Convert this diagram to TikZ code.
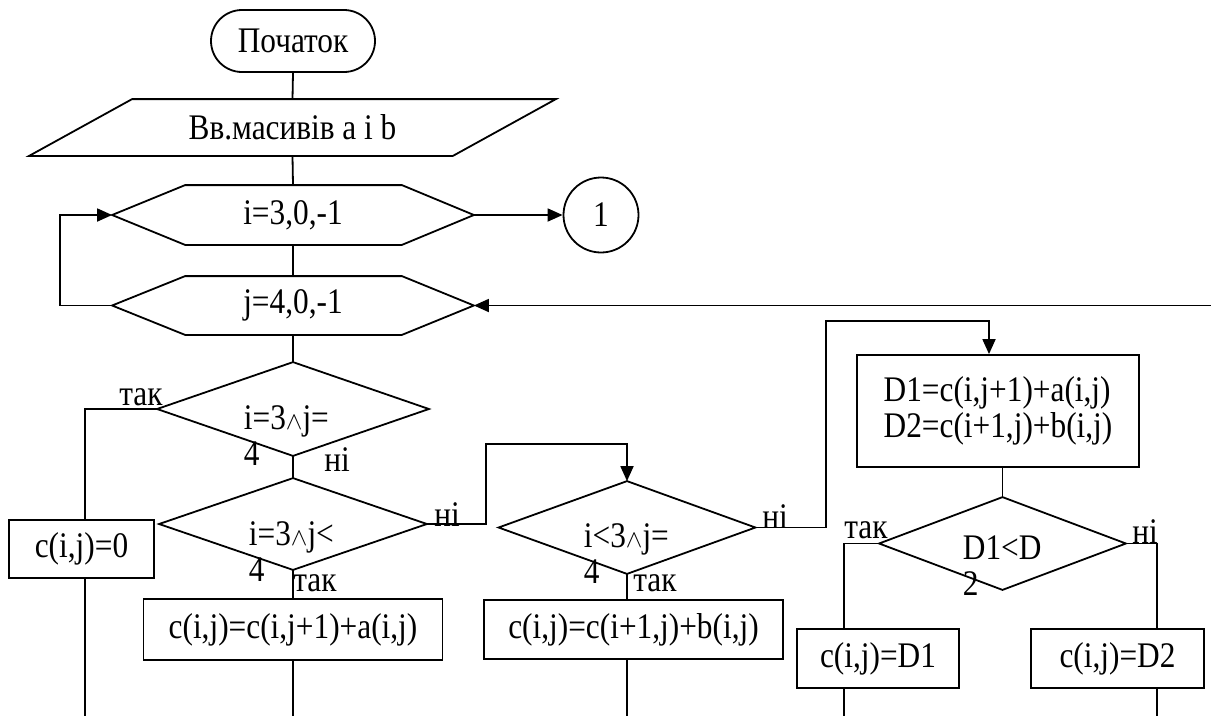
\documentclass[tikz,border=0pt]{standalone}
\usepackage{fontspec}
\setmainfont[FakeStretch=0.87]{Liberation Serif}
\usetikzlibrary{arrows.meta}
\begin{document}
\begin{tikzpicture}[x=1pt,y=-1pt, line width=1.8pt,
  every node/.style={font=\fontsize{36}{36}\selectfont, inner sep=0pt},
  box/.style={draw, rectangle},
  shp/.style={rectangle},
  arr/.style={-{Triangle[length=15pt,width=13pt]}},
]
\useasboundingbox (0,0) rectangle (1211,716);
\coordinate (bottom) at (0,716);

% start
\node[box, rounded corners=31pt, minimum width=164, minimum height=62] (start) at (293,41) {\raisebox{-5pt}{Початок}};
% input parallelogram
\node[shp, minimum width=525, minimum height=55] (inp) at (292.5,127.5) {Вв.масивів a i b};
\draw (inp.south west) -- ([xshift=103pt]inp.north west) -- (inp.north east) -- ([xshift=-103pt]inp.south east) -- cycle;
% hexagons
\node[shp, minimum width=360, minimum height=58] (ih) at (293,215) {\raisebox{-3pt}{i=3,0,-1}};
\node[shp, minimum width=360, minimum height=57] (jh) at (293,305.5) {\raisebox{-3pt}{j=4,0,-1}};
\foreach \n in {ih,jh}{
  \draw (\n.west) -- ([xshift=73pt]\n.north west) -- ([xshift=-72pt]\n.north east) -- (\n.east)
     -- ([xshift=-72pt]\n.south east) -- ([xshift=73pt]\n.south west) -- cycle;
}
% connector circle
\node[draw, circle, minimum size=75] (c1) at (601,215) {\raisebox{-4pt}{1}};
\coordinate (rin) at (1211,305.5);

% diamonds
\node[shp, minimum width=270, minimum height=92] (d1) at (293,409) {};
\node[shp, minimum width=266, minimum height=90] (d2) at (293,524) {};
\node[shp, minimum width=255, minimum height=91] (d3) at (627,527.5) {};
\node[shp, minimum width=245, minimum height=91] (d4) at (1002.5,543.5) {};
\foreach \n in {d1,d2,d3,d4}{
  \draw (\n.north) -- (\n.east) -- (\n.south) -- (\n.west) -- cycle;
}
\node[anchor=base west, align=left] (d1t) at (243,465) {i=3$\wedge$j=\\4};
\node[anchor=base west, align=left] (d2t) at (248,581) {i=3$\wedge$j<\\4};
\node[anchor=base west, align=left] (d3t) at (583,583) {i<3$\wedge$j=\\4};
\node[anchor=base west, align=left] (d4t) at (962,595) {D1<D\\2};

% boxes
\node[box, minimum width=145, minimum height=58] (b0) at (81.5,549) {c(i,j)=0};
\node[box, minimum width=299, minimum height=61] (ba) at (293,629.5) {c(i,j)=c(i,j+1)+a(i,j)};
\node[box, minimum width=299, minimum height=59] (bb) at (633.5,629.5) {c(i,j)=c(i+1,j)+b(i,j)};
\node[box, minimum width=282, minimum height=112, align=left] (bd) at (998,411) {D1=c(i,j+1)+a(i,j)\\D2=c(i+1,j)+b(i,j)};
\node[box, minimum width=162, minimum height=59] (bd1) at (878,658.5) {c(i,j)=D1};
\node[box, minimum width=173, minimum height=59] (bd2) at (1117.5,658.5) {c(i,j)=D2};

% labels
\node (l1) at (141,397) {так};
\node (l2) at (337,460) {ні};
\node (l3) at (447,515) {ні};
\node (l4) at (315,583) {так};
\node (l5) at (775,517) {ні};
\node (l6) at (655,583) {так};
\node (l7) at (866,530) {так};
\node (l8) at (1145,532) {ні};

% connectors
\draw (start.south) -- (inp.north);
\draw (inp.south) -- (ih.north);
\draw (ih.south) -- (jh.north);
\draw[arr] (ih.east) -- (c1.west);
\draw[arr] (jh.west) -- ++(-52,0) |- (ih.west);
\draw[arr] (rin) -- (jh.east);
\draw (jh.south) -- (d1.north);
\draw (d1.west) -| ([xshift=3.5pt]b0.north);
\draw ([xshift=3.5pt]b0.south) -- ([xshift=3.5pt]b0.south |- bottom);
\draw (d1.south) -- (d2.north);
\draw (d2.south) -- (ba.north);
\draw (ba.south) -- (ba.south |- bottom);
\draw[arr] (d2.east) -- ++(59,0) |- ([yshift=37pt]d3.north) -- (d3.north);
\draw (d3.south) -- (d3.south |- bb.north);
\draw (d3.south |- bb.south) -- (d3.south |- bottom);
\draw[arr] (d3.east) -- ++(70.5,0) |- ([xshift=-9pt,yshift=33pt]bd.north) -- ([xshift=-9pt]bd.north);
\draw (d4.north) -- (d4.north |- bd.south);
\draw (d4.west) -| ([xshift=-34pt]bd1.north);
\draw ([xshift=-34pt]bd1.south) -- ([xshift=-34pt]bd1.south |- bottom);
\draw (d4.east) -| ([xshift=39.5pt]bd2.north);
\draw ([xshift=39.5pt]bd2.south) -- ([xshift=39.5pt]bd2.south |- bottom);
\end{tikzpicture}
\end{document}
